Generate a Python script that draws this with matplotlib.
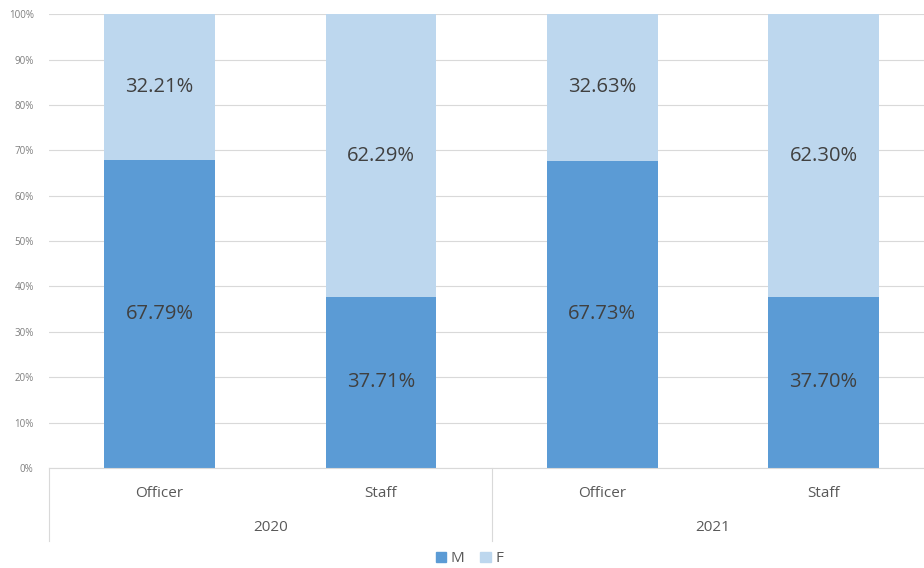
import matplotlib.pyplot as plt
from matplotlib.lines import Line2D
from matplotlib.patches import Patch
import numpy as np

plt.rcParams['font.family'] = ['Open Sans', 'DejaVu Sans']

# data
years = ["2020", "2021"]
roles = ["Officer", "Staff", "Officer", "Staff"]
male = [67.79, 37.71, 67.73, 37.70]
female = [32.21, 62.29, 32.63, 62.30]

c_m = "#5B9BD5"
c_f = "#BDD7EE"
txt = "#404040"
grey = "#595959"

fig = plt.figure(figsize=(9.24, 5.68), dpi=100)
ax = fig.add_axes([0.053, 0.176, 0.958, 0.799])

x = np.arange(len(roles))
ax.bar(x, male, width=0.5, color=c_m, zorder=2)
ax.bar(x, female, width=0.5, bottom=male, color=c_f, zorder=2)

for xi, m, f in zip(x, male, female):
    ax.text(xi, m / 2, f"{m:.2f}%", ha="center", va="center", fontsize=14.5, color=txt)
    ax.text(xi, m + f / 2, f"{f:.2f}%", ha="center", va="center", fontsize=14.5, color=txt)

ax.set_xlim(-0.5, len(roles) - 0.5)
ax.set_ylim(0, 100)
ax.set_yticks(np.arange(0, 101, 10))
ax.set_yticklabels([f"{v}%" for v in range(0, 101, 10)], fontsize=7, color="#7F7F7F")
ax.grid(axis="y", color="#D9D9D9", linewidth=0.8, zorder=0)
ax.tick_params(axis="y", length=0, pad=11)
ax.tick_params(axis="x", length=0)
ax.set_xticks([])
for s in ["top", "right", "left"]:
    ax.spines[s].set_visible(False)
ax.spines["bottom"].set_color("#D9D9D9")

# category labels and year groups under the axis
trans = ax.get_xaxis_transform()
for xi, r in zip(x, roles):
    ax.text(xi, -0.057, r, transform=trans, ha="center", va="center", fontsize=11, color=grey)
for i, y in enumerate(years):
    ax.text(2 * i + 0.5, -0.13, y, transform=trans, ha="center", va="center", fontsize=11, color=grey)
for xb in [-0.5, 1.5, 3.5]:
    ax.add_line(Line2D([xb, xb], [0, -0.16], transform=trans, color="#D9D9D9",
                       linewidth=0.8, clip_on=False))

handles = [Patch(color=c_m, label="M"), Patch(color=c_f, label="F")]
fig.legend(handles=handles, loc="center", bbox_to_anchor=(0.508, 0.016), ncol=2,
           frameon=False, fontsize=11, handlelength=0.7, handleheight=0.7,
           handletextpad=0.3, columnspacing=1.0, labelcolor=grey)

fig.savefig("out.png", dpi=100)
